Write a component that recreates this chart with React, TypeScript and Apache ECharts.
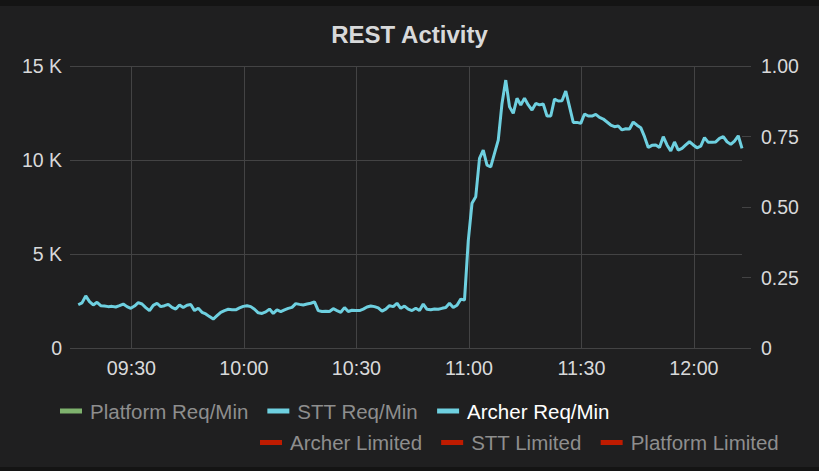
import React, { useEffect, useRef } from "react";
import * as echarts from "echarts";

// one sample per minute, first sample at 09:15:49
const startTime = new Date(2020, 0, 1, 9, 15, 49).getTime();
const stepMs = 60000;
const axisMin = new Date(2020, 0, 1, 9, 13, 37).getTime();
const axisMax = new Date(2020, 0, 1, 12, 12, 49).getTime();
const xTickLabels = ["09:30", "10:00", "10:30", "11:00", "11:30", "12:00"];

const archerReqMin = [
  2300, 2400, 2770, 2470, 2290, 2430, 2250, 2230, 2200, 2215,
  2180, 2250, 2340, 2200, 2110, 2230, 2410, 2340, 2150, 1990,
  2270, 2380, 2200, 2250, 2320, 2160, 2070, 2290, 2150, 2270,
  2310, 1990, 2110, 1900, 1810, 1670, 1540, 1720, 1900, 1990,
  2060, 2030, 2030, 2130, 2215, 2250, 2200, 2060, 1870, 1840,
  1920, 2070, 1840, 2030, 1940, 2030, 2110, 2160, 2360, 2320,
  2290, 2340, 2380, 2450, 1990, 1940, 1960, 1940, 2090, 1990,
  1900, 2150, 1940, 2010, 1990, 1990, 2070, 2180, 2230, 2200,
  2130, 1960, 2070, 2250, 2200, 2380, 2110, 2230, 2070, 1990,
  2110, 1990, 2340, 2060, 2030, 2070, 2060, 2110, 2150, 2380,
  2150, 2270, 2600, 2550, 5700, 7700, 8050, 10090, 10530, 9730,
  9640, 10350, 11060, 13010, 14250, 12830, 12480, 13280, 12930, 13280,
  12930, 12660, 13010, 12930, 12980, 12340, 12340, 13240, 13140, 13150,
  13670, 12840, 12000, 12000, 11950, 12450, 12340, 12340, 12430, 12270,
  12180, 12020, 11860, 11770, 11810, 11600, 11660, 11650, 12020, 11850,
  11720, 11240, 10670, 10780, 10800, 10670, 11240, 10800, 10480, 10960,
  10530, 10620, 10800, 10970, 10800, 10650, 10740, 11190, 10940, 10940,
  10960, 11150, 11240, 10970, 10830, 11010, 11290, 10620,
];
const platformReqMin: number[] = [];
const sttReqMin: number[] = [];
const archerLimited: number[] = [];
const sttLimited: number[] = [];
const platformLimited: number[] = [];

const legendRow1 = ["Platform Req/Min", "STT Req/Min", "Archer Req/Min"];
const legendRow2 = ["Archer Limited", "STT Limited", "Platform Limited"];

const FONT = "'Liberation Sans', Arial, Helvetica, sans-serif";
const GRID = "#434344";
const TEXT = "#d8d9da";
const LEGEND_TEXT = "#8e8e8e";

function toPoints(values: number[]) {
  return values.map((v, i) => [startTime + i * stepMs, v]);
}

function pad(n: number) {
  return n < 10 ? "0" + n : "" + n;
}

function labelToTime(s: string) {
  const [h, m] = s.split(":").map(Number);
  return new Date(2020, 0, 1, h, m, 0).getTime();
}

export default function App() {
  const ref = useRef<HTMLDivElement>(null);

  useEffect(() => {
    if (!ref.current) return;
    const chart = echarts.init(ref.current, undefined, { renderer: "svg" });
    const tickTimes = xTickLabels.map(labelToTime);
    const lineSeries = (name: string, data: number[], color: string, yAxisIndex: number) => ({
      name,
      type: "line",
      yAxisIndex,
      data: toPoints(data),
      showSymbol: false,
      symbol: "none",
      color,
      itemStyle: { color },
      lineStyle: { color, width: 3 },
    });
    chart.setOption({
      animation: false,
      backgroundColor: "transparent",
      textStyle: { fontFamily: FONT },
      title: {
        text: "REST Activity",
        left: "center",
        top: 17,
        textStyle: { color: TEXT, fontSize: 24, fontWeight: "bold", fontFamily: FONT },
      },
      legend: [
        {
          left: 60,
          top: 400.5,
          padding: 0,
          icon: "rect",
          itemWidth: 22,
          itemHeight: 5,
          itemGap: 19,
          textStyle: { color: LEGEND_TEXT, fontSize: 20.5, fontFamily: FONT, padding: [0, 0, 0, 3] },
          data: legendRow1.map((n) =>
            n === "Archer Req/Min" ? { name: n, textStyle: { color: "#ffffff" } } : { name: n }
          ),
        },
        {
          left: 260,
          top: 432,
          padding: 0,
          icon: "rect",
          itemWidth: 22,
          itemHeight: 5,
          itemGap: 19,
          textStyle: { color: LEGEND_TEXT, fontSize: 20.5, fontFamily: FONT, padding: [0, 0, 0, 3] },
          data: legendRow2.map((n) => ({ name: n })),
        },
      ],
      grid: { left: 70, right: 77, top: 66, bottom: 123, containLabel: false },
      xAxis: {
        type: "value",
        min: axisMin,
        max: axisMax,
        axisLine: { show: false },
        axisTick: { show: false, customValues: tickTimes },
        splitLine: { show: true, lineStyle: { color: GRID, width: 1 } },
        axisLabel: {
          color: TEXT,
          fontSize: 19.7,
          fontFamily: FONT,
          margin: 10,
          customValues: tickTimes,
          formatter: (v: number) => {
            const d = new Date(v);
            return pad(d.getHours()) + ":" + pad(d.getMinutes());
          },
        },
      },
      yAxis: [
        {
          type: "value",
          min: 0,
          max: 15000,
          interval: 5000,
          axisLine: { show: false },
          axisTick: { show: false },
          splitLine: { show: true, lineStyle: { color: GRID, width: 1 } },
          axisLabel: {
            color: TEXT,
            fontSize: 19.5,
            fontFamily: FONT,
            margin: 8,
            formatter: (v: number) => (v === 0 ? "0" : v / 1000 + " K"),
          },
        },
        {
          type: "value",
          position: "right",
          min: 0,
          max: 1,
          interval: 0.25,
          axisLine: { show: false },
          axisTick: { show: true, length: 9, lineStyle: { color: GRID, width: 1 } },
          splitLine: { show: false },
          axisLabel: {
            color: TEXT,
            fontSize: 19.5,
            fontFamily: FONT,
            margin: 19,
            formatter: (v: number) => (v === 0 ? "0" : v.toFixed(2)),
          },
        },
      ],
      series: [
        lineSeries("Platform Req/Min", platformReqMin, "#7eb26d", 0),
        lineSeries("STT Req/Min", sttReqMin, "#6ed0e0", 0),
        lineSeries("Archer Req/Min", archerReqMin, "#6ed0e0", 0),
        lineSeries("Archer Limited", archerLimited, "#bf1b00", 1),
        lineSeries("STT Limited", sttLimited, "#bf1b00", 1),
        lineSeries("Platform Limited", platformLimited, "#bf1b00", 1),
      ],
    });
    return () => chart.dispose();
  }, []);

  return (
    <div
      style={{
        position: "fixed",
        left: 0,
        top: 0,
        width: 819,
        height: 471,
        background: "linear-gradient(#141414 0px, #141414 6px, #1f1f20 6px, #1f1f20 467px, #141414 467px)",
      }}
    >
      <div ref={ref} style={{ width: 819, height: 471 }} />
    </div>
  );
}
